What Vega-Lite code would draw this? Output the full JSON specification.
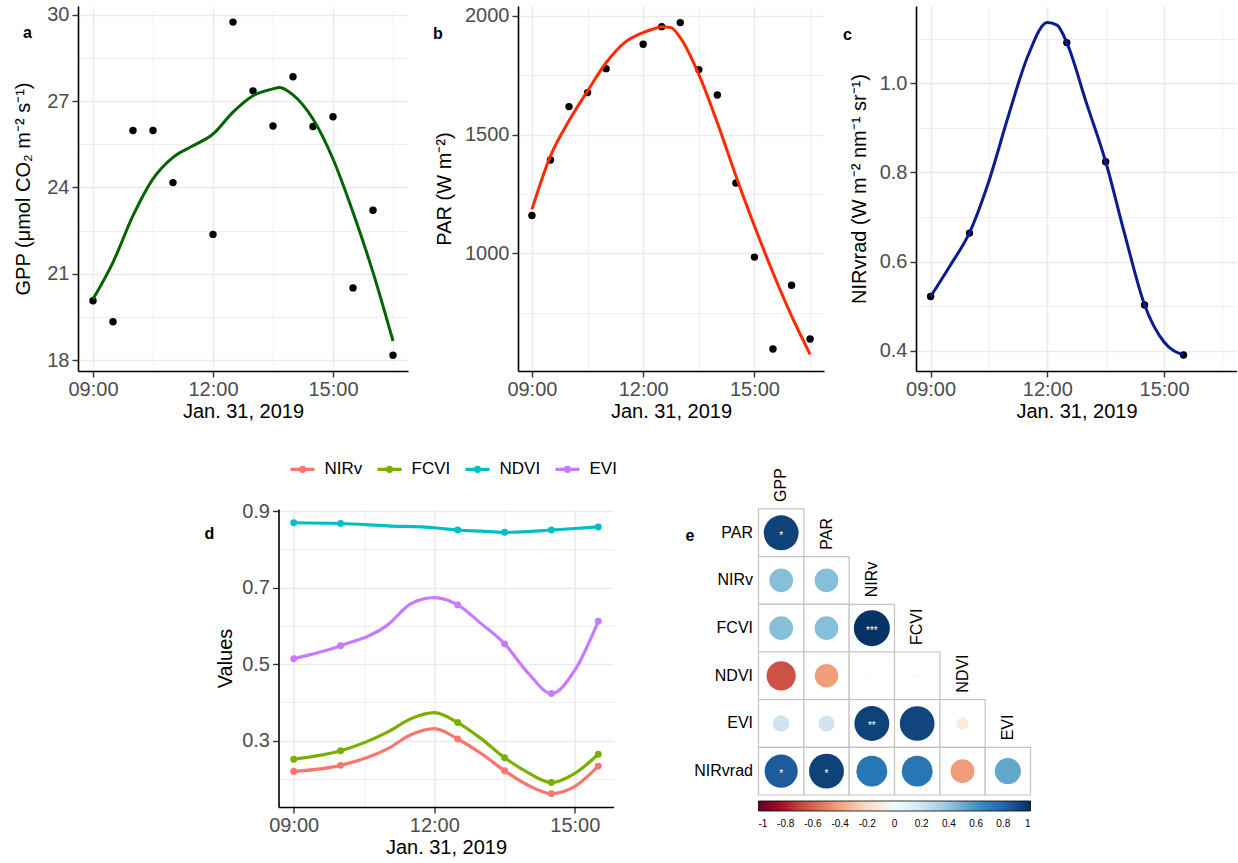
{
  "$schema": "https://vega.github.io/schema/vega-lite/v6.json",
  "background": "white",
  "padding": {"left": 13, "top": 4, "right": 0, "bottom": 0},
  "center": true,
  "spacing": 34,
  "config": {
    "font": "Liberation Sans",
    "view": {"stroke": null},
    "axis": {
      "domainColor": "black", "domainWidth": 1.6,
      "tickColor": "#333333", "tickWidth": 1.4, "tickSize": 6,
      "labelColor": "#4D4D4D", "labelFontSize": 20, "labelPadding": 3,
      "titleFontSize": 20, "titleFontWeight": "normal", "titleColor": "black", "titlePadding": 10,
      "gridColor": "#EBEBEB"
    },
    "title": {"fontSize": 16, "fontWeight": "bold", "anchor": "start", "frame": "group", "offset": 0, "baseline": "middle", "color": "black"}
  },
  "datasets": {
    "gpp_obs": [
      {"time": "2019-01-31T09:00", "GPP": 20.06}, {"time": "2019-01-31T09:30", "GPP": 19.33},
      {"time": "2019-01-31T10:00", "GPP": 25.98}, {"time": "2019-01-31T10:30", "GPP": 25.98},
      {"time": "2019-01-31T11:00", "GPP": 24.17}, {"time": "2019-01-31T12:00", "GPP": 22.37},
      {"time": "2019-01-31T12:30", "GPP": 29.75}, {"time": "2019-01-31T13:00", "GPP": 27.36},
      {"time": "2019-01-31T13:30", "GPP": 26.14}, {"time": "2019-01-31T14:00", "GPP": 27.85},
      {"time": "2019-01-31T14:30", "GPP": 26.12}, {"time": "2019-01-31T15:00", "GPP": 26.46},
      {"time": "2019-01-31T15:30", "GPP": 20.51}, {"time": "2019-01-31T16:00", "GPP": 23.21},
      {"time": "2019-01-31T16:30", "GPP": 18.17}
    ],
    "gpp_fit": [
      {"time": "2019-01-31T09:00", "GPP": 20.12}, {"time": "2019-01-31T09:30", "GPP": 21.40},
      {"time": "2019-01-31T10:00", "GPP": 23.02}, {"time": "2019-01-31T10:30", "GPP": 24.30},
      {"time": "2019-01-31T11:00", "GPP": 25.05}, {"time": "2019-01-31T11:30", "GPP": 25.45},
      {"time": "2019-01-31T12:00", "GPP": 25.86}, {"time": "2019-01-31T12:30", "GPP": 26.62},
      {"time": "2019-01-31T13:00", "GPP": 27.19}, {"time": "2019-01-31T13:30", "GPP": 27.43},
      {"time": "2019-01-31T13:40", "GPP": 27.48}, {"time": "2019-01-31T14:00", "GPP": 27.22},
      {"time": "2019-01-31T14:30", "GPP": 26.38}, {"time": "2019-01-31T15:00", "GPP": 24.99},
      {"time": "2019-01-31T15:30", "GPP": 23.14}, {"time": "2019-01-31T16:00", "GPP": 21.05},
      {"time": "2019-01-31T16:30", "GPP": 18.67}
    ],
    "par_obs": [
      {"time": "2019-01-31T09:00", "PAR": 1159}, {"time": "2019-01-31T09:30", "PAR": 1393},
      {"time": "2019-01-31T10:00", "PAR": 1618}, {"time": "2019-01-31T10:30", "PAR": 1677},
      {"time": "2019-01-31T11:00", "PAR": 1778}, {"time": "2019-01-31T12:00", "PAR": 1881},
      {"time": "2019-01-31T12:30", "PAR": 1955}, {"time": "2019-01-31T13:00", "PAR": 1972},
      {"time": "2019-01-31T13:30", "PAR": 1774}, {"time": "2019-01-31T14:00", "PAR": 1667},
      {"time": "2019-01-31T14:30", "PAR": 1296}, {"time": "2019-01-31T15:00", "PAR": 984},
      {"time": "2019-01-31T15:30", "PAR": 597}, {"time": "2019-01-31T16:00", "PAR": 865},
      {"time": "2019-01-31T16:30", "PAR": 639}
    ],
    "par_fit": [
      {"time": "2019-01-31T09:00", "PAR": 1185}, {"time": "2019-01-31T09:30", "PAR": 1410},
      {"time": "2019-01-31T10:00", "PAR": 1558}, {"time": "2019-01-31T10:30", "PAR": 1684},
      {"time": "2019-01-31T11:00", "PAR": 1803}, {"time": "2019-01-31T11:30", "PAR": 1888},
      {"time": "2019-01-31T12:00", "PAR": 1930}, {"time": "2019-01-31T12:15", "PAR": 1944},
      {"time": "2019-01-31T12:30", "PAR": 1955}, {"time": "2019-01-31T12:45", "PAR": 1951},
      {"time": "2019-01-31T13:00", "PAR": 1909}, {"time": "2019-01-31T13:30", "PAR": 1754},
      {"time": "2019-01-31T14:00", "PAR": 1550}, {"time": "2019-01-31T14:30", "PAR": 1326},
      {"time": "2019-01-31T15:00", "PAR": 1115}, {"time": "2019-01-31T15:30", "PAR": 918},
      {"time": "2019-01-31T16:00", "PAR": 736}, {"time": "2019-01-31T16:30", "PAR": 574}
    ],
    "nirvrad_obs": [
      {"time": "2019-01-31T09:00", "NIRvrad": 0.522}, {"time": "2019-01-31T10:00", "NIRvrad": 0.664},
      {"time": "2019-01-31T12:30", "NIRvrad": 1.091}, {"time": "2019-01-31T13:30", "NIRvrad": 0.824},
      {"time": "2019-01-31T14:30", "NIRvrad": 0.503}, {"time": "2019-01-31T15:30", "NIRvrad": 0.391}
    ],
    "nirvrad_fit": [
      {"time": "2019-01-31T09:00", "NIRvrad": 0.522}, {"time": "2019-01-31T09:30", "NIRvrad": 0.591},
      {"time": "2019-01-31T10:00", "NIRvrad": 0.665}, {"time": "2019-01-31T10:30", "NIRvrad": 0.781},
      {"time": "2019-01-31T11:00", "NIRvrad": 0.927}, {"time": "2019-01-31T11:30", "NIRvrad": 1.061},
      {"time": "2019-01-31T12:00", "NIRvrad": 1.136}, {"time": "2019-01-31T12:15", "NIRvrad": 1.130},
      {"time": "2019-01-31T12:30", "NIRvrad": 1.091}, {"time": "2019-01-31T13:00", "NIRvrad": 0.957},
      {"time": "2019-01-31T13:30", "NIRvrad": 0.824}, {"time": "2019-01-31T14:00", "NIRvrad": 0.658},
      {"time": "2019-01-31T14:30", "NIRvrad": 0.503}, {"time": "2019-01-31T15:00", "NIRvrad": 0.420},
      {"time": "2019-01-31T15:30", "NIRvrad": 0.391}
    ],
    "vi_obs": [
      {"time": "2019-01-31T09:00", "index": "NIRv", "value": 0.219}, {"time": "2019-01-31T10:00", "index": "NIRv", "value": 0.235},
      {"time": "2019-01-31T12:30", "index": "NIRv", "value": 0.304}, {"time": "2019-01-31T13:30", "index": "NIRv", "value": 0.221},
      {"time": "2019-01-31T14:30", "index": "NIRv", "value": 0.161}, {"time": "2019-01-31T15:30", "index": "NIRv", "value": 0.233},
      {"time": "2019-01-31T09:00", "index": "FCVI", "value": 0.251}, {"time": "2019-01-31T10:00", "index": "FCVI", "value": 0.273},
      {"time": "2019-01-31T12:30", "index": "FCVI", "value": 0.347}, {"time": "2019-01-31T13:30", "index": "FCVI", "value": 0.255},
      {"time": "2019-01-31T14:30", "index": "FCVI", "value": 0.190}, {"time": "2019-01-31T15:30", "index": "FCVI", "value": 0.264},
      {"time": "2019-01-31T09:00", "index": "NDVI", "value": 0.870}, {"time": "2019-01-31T10:00", "index": "NDVI", "value": 0.868},
      {"time": "2019-01-31T12:30", "index": "NDVI", "value": 0.851}, {"time": "2019-01-31T13:30", "index": "NDVI", "value": 0.845},
      {"time": "2019-01-31T14:30", "index": "NDVI", "value": 0.851}, {"time": "2019-01-31T15:30", "index": "NDVI", "value": 0.859},
      {"time": "2019-01-31T09:00", "index": "EVI", "value": 0.514}, {"time": "2019-01-31T10:00", "index": "EVI", "value": 0.548},
      {"time": "2019-01-31T12:30", "index": "EVI", "value": 0.655}, {"time": "2019-01-31T13:30", "index": "EVI", "value": 0.553},
      {"time": "2019-01-31T14:30", "index": "EVI", "value": 0.423}, {"time": "2019-01-31T15:30", "index": "EVI", "value": 0.612}
    ],
    "vi_fit": [
      {"time": "2019-01-31T09:00", "index": "NIRv", "value": 0.219}, {"time": "2019-01-31T10:00", "index": "NIRv", "value": 0.235},
      {"time": "2019-01-31T11:00", "index": "NIRv", "value": 0.278}, {"time": "2019-01-31T11:30", "index": "NIRv", "value": 0.315},
      {"time": "2019-01-31T12:00", "index": "NIRv", "value": 0.331}, {"time": "2019-01-31T12:30", "index": "NIRv", "value": 0.304},
      {"time": "2019-01-31T13:00", "index": "NIRv", "value": 0.266}, {"time": "2019-01-31T13:30", "index": "NIRv", "value": 0.221},
      {"time": "2019-01-31T14:00", "index": "NIRv", "value": 0.183}, {"time": "2019-01-31T14:30", "index": "NIRv", "value": 0.161},
      {"time": "2019-01-31T15:00", "index": "NIRv", "value": 0.180}, {"time": "2019-01-31T15:30", "index": "NIRv", "value": 0.233},
      {"time": "2019-01-31T09:00", "index": "FCVI", "value": 0.251}, {"time": "2019-01-31T10:00", "index": "FCVI", "value": 0.273},
      {"time": "2019-01-31T11:00", "index": "FCVI", "value": 0.322}, {"time": "2019-01-31T11:30", "index": "FCVI", "value": 0.357},
      {"time": "2019-01-31T12:00", "index": "FCVI", "value": 0.373}, {"time": "2019-01-31T12:30", "index": "FCVI", "value": 0.347},
      {"time": "2019-01-31T13:00", "index": "FCVI", "value": 0.305}, {"time": "2019-01-31T13:30", "index": "FCVI", "value": 0.255},
      {"time": "2019-01-31T14:00", "index": "FCVI", "value": 0.216}, {"time": "2019-01-31T14:30", "index": "FCVI", "value": 0.190},
      {"time": "2019-01-31T15:00", "index": "FCVI", "value": 0.214}, {"time": "2019-01-31T15:30", "index": "FCVI", "value": 0.264},
      {"time": "2019-01-31T09:00", "index": "NDVI", "value": 0.870}, {"time": "2019-01-31T10:00", "index": "NDVI", "value": 0.868},
      {"time": "2019-01-31T11:00", "index": "NDVI", "value": 0.862}, {"time": "2019-01-31T12:00", "index": "NDVI", "value": 0.857},
      {"time": "2019-01-31T12:30", "index": "NDVI", "value": 0.851}, {"time": "2019-01-31T13:00", "index": "NDVI", "value": 0.848},
      {"time": "2019-01-31T13:30", "index": "NDVI", "value": 0.845}, {"time": "2019-01-31T14:00", "index": "NDVI", "value": 0.847},
      {"time": "2019-01-31T14:30", "index": "NDVI", "value": 0.851}, {"time": "2019-01-31T15:00", "index": "NDVI", "value": 0.855},
      {"time": "2019-01-31T15:30", "index": "NDVI", "value": 0.859},
      {"time": "2019-01-31T09:00", "index": "EVI", "value": 0.514}, {"time": "2019-01-31T10:00", "index": "EVI", "value": 0.548},
      {"time": "2019-01-31T11:00", "index": "EVI", "value": 0.602}, {"time": "2019-01-31T11:30", "index": "EVI", "value": 0.658},
      {"time": "2019-01-31T12:00", "index": "EVI", "value": 0.674}, {"time": "2019-01-31T12:30", "index": "EVI", "value": 0.655},
      {"time": "2019-01-31T13:00", "index": "EVI", "value": 0.606}, {"time": "2019-01-31T13:30", "index": "EVI", "value": 0.553},
      {"time": "2019-01-31T14:00", "index": "EVI", "value": 0.477}, {"time": "2019-01-31T14:30", "index": "EVI", "value": 0.423},
      {"time": "2019-01-31T15:00", "index": "EVI", "value": 0.484}, {"time": "2019-01-31T15:30", "index": "EVI", "value": 0.612}
    ],
    "cor": [
      {"row": "PAR", "col": "GPP", "r": 0.93, "sig": "*"},
      {"row": "NIRv", "col": "GPP", "r": 0.43, "sig": ""},
      {"row": "NIRv", "col": "PAR", "r": 0.43, "sig": ""},
      {"row": "FCVI", "col": "GPP", "r": 0.43, "sig": ""},
      {"row": "FCVI", "col": "PAR", "r": 0.43, "sig": ""},
      {"row": "FCVI", "col": "NIRv", "r": 0.99, "sig": "***"},
      {"row": "NDVI", "col": "GPP", "r": -0.65, "sig": ""},
      {"row": "NDVI", "col": "PAR", "r": -0.42, "sig": ""},
      {"row": "NDVI", "col": "NIRv", "r": 0.01, "sig": ""},
      {"row": "NDVI", "col": "FCVI", "r": -0.01, "sig": ""},
      {"row": "EVI", "col": "GPP", "r": 0.21, "sig": ""},
      {"row": "EVI", "col": "PAR", "r": 0.2, "sig": ""},
      {"row": "EVI", "col": "NIRv", "r": 0.93, "sig": "**"},
      {"row": "EVI", "col": "FCVI", "r": 0.92, "sig": ""},
      {"row": "EVI", "col": "NDVI", "r": -0.11, "sig": ""},
      {"row": "NIRvrad", "col": "GPP", "r": 0.84, "sig": "*"},
      {"row": "NIRvrad", "col": "PAR", "r": 0.93, "sig": "*"},
      {"row": "NIRvrad", "col": "NIRv", "r": 0.73, "sig": ""},
      {"row": "NIRvrad", "col": "FCVI", "r": 0.73, "sig": ""},
      {"row": "NIRvrad", "col": "NDVI", "r": -0.43, "sig": ""},
      {"row": "NIRvrad", "col": "EVI", "r": 0.52, "sig": ""}
    ],
    "cor_cols": [
      {"col": "GPP", "row": "top"}, {"col": "PAR", "row": "PAR"}, {"col": "NIRv", "row": "NIRv"},
      {"col": "FCVI", "row": "FCVI"}, {"col": "NDVI", "row": "NDVI"}, {"col": "EVI", "row": "EVI"}
    ]
  },
  "vconcat": [
    {
      "hconcat": [
        {
          "hconcat": [
            {
              "width": 330, "height": 365,
              "title": {"text": "a", "dx": -55, "dy": 40},
              "encoding": {
                "x": {"field": "time", "type": "temporal",
                  "scale": {"domain": [{"year": 2019, "month": 1, "date": 31, "hours": 8, "minutes": 37, "seconds": 30}, {"year": 2019, "month": 1, "date": 31, "hours": 16, "minutes": 52, "seconds": 30}]},
                  "axis": {"title": "Jan. 31, 2019", "labelPadding": 2, "titlePadding": 2,
                    "values": [{"year": 2019, "month": 1, "date": 31, "hours": 9}, {"year": 2019, "month": 1, "date": 31, "hours": 10, "minutes": 30}, {"year": 2019, "month": 1, "date": 31, "hours": 12}, {"year": 2019, "month": 1, "date": 31, "hours": 13, "minutes": 30}, {"year": 2019, "month": 1, "date": 31, "hours": 15}, {"year": 2019, "month": 1, "date": 31, "hours": 16, "minutes": 30}],
                    "labelExpr": "minutes(datum.value) == 0 ? timeFormat(datum.value, '%H:%M') : ''",
                    "tickOpacity": {"condition": {"test": "minutes(datum.value) == 0", "value": 1}, "value": 0},
                    "gridWidth": {"condition": {"test": "minutes(datum.value) == 0", "value": 1.6}, "value": 0.8}}},
                "y": {"field": "GPP", "type": "quantitative",
                  "scale": {"domain": [17.62, 30.31], "nice": false, "zero": false},
                  "axis": {"title": "GPP (μmol CO₂ m⁻² s⁻¹)", "titlePadding": 13, "values": [18, 19.5, 21, 22.5, 24, 25.5, 27, 28.5, 30],
                    "labelExpr": "datum.value % 3 == 0 ? format(datum.value, 'd') : ''",
                    "tickOpacity": {"condition": {"test": "datum.value % 3 == 0", "value": 1}, "value": 0},
                    "gridWidth": {"condition": {"test": "datum.value % 3 == 0", "value": 1.6}, "value": 0.8}}}
              },
              "layer": [
                {"data": {"name": "gpp_obs", "format": {"parse": {"time": "date:'%Y-%m-%dT%H:%M'"}}}, "mark": {"type": "circle", "color": "black", "size": 55, "opacity": 1}},
                {"data": {"name": "gpp_fit", "format": {"parse": {"time": "date:'%Y-%m-%dT%H:%M'"}}}, "mark": {"type": "line", "color": "#006400", "strokeWidth": 3, "interpolate": "monotone"}}
              ]
            },
            {
              "width": 306, "height": 365,
              "title": {"text": "b", "dx": -85, "dy": 40},
              "encoding": {
                "x": {"field": "time", "type": "temporal",
                  "scale": {"domain": [{"year": 2019, "month": 1, "date": 31, "hours": 8, "minutes": 37, "seconds": 30}, {"year": 2019, "month": 1, "date": 31, "hours": 16, "minutes": 52, "seconds": 30}]},
                  "axis": {"title": "Jan. 31, 2019", "labelPadding": 2, "titlePadding": 2,
                    "values": [{"year": 2019, "month": 1, "date": 31, "hours": 9}, {"year": 2019, "month": 1, "date": 31, "hours": 10, "minutes": 30}, {"year": 2019, "month": 1, "date": 31, "hours": 12}, {"year": 2019, "month": 1, "date": 31, "hours": 13, "minutes": 30}, {"year": 2019, "month": 1, "date": 31, "hours": 15}, {"year": 2019, "month": 1, "date": 31, "hours": 16, "minutes": 30}],
                    "labelExpr": "minutes(datum.value) == 0 ? timeFormat(datum.value, '%H:%M') : ''",
                    "tickOpacity": {"condition": {"test": "minutes(datum.value) == 0", "value": 1}, "value": 0},
                    "gridWidth": {"condition": {"test": "minutes(datum.value) == 0", "value": 1.6}, "value": 0.8}}},
                "y": {"field": "PAR", "type": "quantitative",
                  "scale": {"domain": [504, 2042], "nice": false, "zero": false},
                  "axis": {"title": "PAR (W m⁻²)", "values": [750, 1000, 1250, 1500, 1750, 2000],
                    "labelExpr": "datum.value % 500 == 0 ? format(datum.value, 'd') : ''",
                    "tickOpacity": {"condition": {"test": "datum.value % 500 == 0", "value": 1}, "value": 0},
                    "gridWidth": {"condition": {"test": "datum.value % 500 == 0", "value": 1.6}, "value": 0.8}}}
              },
              "layer": [
                {"data": {"name": "par_obs", "format": {"parse": {"time": "date:'%Y-%m-%dT%H:%M'"}}}, "mark": {"type": "circle", "color": "black", "size": 55, "opacity": 1}},
                {"data": {"name": "par_fit", "format": {"parse": {"time": "date:'%Y-%m-%dT%H:%M'"}}}, "mark": {"type": "line", "color": "#FF2A00", "strokeWidth": 3, "interpolate": "monotone"}}
              ]
            }
          ],
          "spacing": 25
        },
        {
          "width": 321, "height": 365,
          "title": {"text": "c", "dx": -73, "dy": 41},
          "encoding": {
            "x": {"field": "time", "type": "temporal",
              "scale": {"domain": [{"year": 2019, "month": 1, "date": 31, "hours": 8, "minutes": 37, "seconds": 30}, {"year": 2019, "month": 1, "date": 31, "hours": 16, "minutes": 52, "seconds": 30}]},
              "axis": {"title": "Jan. 31, 2019", "labelPadding": 2, "titlePadding": 2,
                "values": [{"year": 2019, "month": 1, "date": 31, "hours": 9}, {"year": 2019, "month": 1, "date": 31, "hours": 10, "minutes": 30}, {"year": 2019, "month": 1, "date": 31, "hours": 12}, {"year": 2019, "month": 1, "date": 31, "hours": 13, "minutes": 30}, {"year": 2019, "month": 1, "date": 31, "hours": 15}, {"year": 2019, "month": 1, "date": 31, "hours": 16, "minutes": 30}],
                "labelExpr": "minutes(datum.value) == 0 ? timeFormat(datum.value, '%H:%M') : ''",
                "tickOpacity": {"condition": {"test": "minutes(datum.value) == 0", "value": 1}, "value": 0},
                "gridWidth": {"condition": {"test": "minutes(datum.value) == 0", "value": 1.6}, "value": 0.8}}},
            "y": {"field": "NIRvrad", "type": "quantitative",
              "scale": {"domain": [0.355, 1.173], "nice": false, "zero": false},
              "axis": {"title": "NIRvrad (W m⁻² nm⁻¹ sr⁻¹)", "values": [0.4, 0.5, 0.6, 0.7, 0.8, 0.9, 1.0, 1.1],
                "labelExpr": "round(datum.value * 10) % 2 == 0 ? format(datum.value, '.1f') : ''",
                "tickOpacity": {"condition": {"test": "round(datum.value * 10) % 2 == 0", "value": 1}, "value": 0},
                "gridWidth": {"condition": {"test": "round(datum.value * 10) % 2 == 0", "value": 1.6}, "value": 0.8}}}
          },
          "layer": [
            {"data": {"name": "nirvrad_obs", "format": {"parse": {"time": "date:'%Y-%m-%dT%H:%M'"}}}, "mark": {"type": "circle", "color": "black", "size": 55, "opacity": 1}},
            {"data": {"name": "nirvrad_fit", "format": {"parse": {"time": "date:'%Y-%m-%dT%H:%M'"}}}, "mark": {"type": "line", "color": "#0A1C8F", "strokeWidth": 3, "interpolate": "monotone"}}
          ]
        }
      ],
      "spacing": 19
    },
    {
      "hconcat": [
        {
          "width": 335, "height": 298,
          "title": {"text": "d", "dx": -74, "dy": 91},
          "encoding": {
            "x": {"field": "time", "type": "temporal",
              "scale": {"domain": [{"year": 2019, "month": 1, "date": 31, "hours": 8, "minutes": 40, "seconds": 30}, {"year": 2019, "month": 1, "date": 31, "hours": 15, "minutes": 49, "seconds": 30}]},
              "axis": {"title": "Jan. 31, 2019", "labelPadding": 2, "titlePadding": 2,
                "values": [{"year": 2019, "month": 1, "date": 31, "hours": 9}, {"year": 2019, "month": 1, "date": 31, "hours": 10, "minutes": 30}, {"year": 2019, "month": 1, "date": 31, "hours": 12}, {"year": 2019, "month": 1, "date": 31, "hours": 13, "minutes": 30}, {"year": 2019, "month": 1, "date": 31, "hours": 15}],
                "labelExpr": "minutes(datum.value) == 0 ? timeFormat(datum.value, '%H:%M') : ''",
                "tickOpacity": {"condition": {"test": "minutes(datum.value) == 0", "value": 1}, "value": 0},
                "gridWidth": {"condition": {"test": "minutes(datum.value) == 0", "value": 1.6}, "value": 0.8}}},
            "y": {"field": "value", "type": "quantitative",
              "scale": {"domain": [0.126, 0.906], "nice": false, "zero": false},
              "axis": {"title": "Values", "titlePadding": 6, "values": [0.2, 0.3, 0.4, 0.5, 0.6, 0.7, 0.8, 0.9],
                "labelExpr": "round(datum.value * 10) % 2 == 1 ? format(datum.value, '.1f') : ''",
                "tickOpacity": {"condition": {"test": "round(datum.value * 10) % 2 == 1", "value": 1}, "value": 0},
                "gridWidth": {"condition": {"test": "round(datum.value * 10) % 2 == 1", "value": 1.6}, "value": 0.8}}},
            "color": {"field": "index", "type": "nominal",
              "scale": {"domain": ["NIRv", "FCVI", "NDVI", "EVI"], "range": ["#F8766D", "#7CAE00", "#00BFC4", "#C77CFF"]}}
          },
          "layer": [
            {"data": {"name": "vi_fit", "format": {"parse": {"time": "date:'%Y-%m-%dT%H:%M'"}}},
              "mark": {"type": "line", "strokeWidth": 3.2, "interpolate": "monotone"},
              "encoding": {"color": {"field": "index", "type": "nominal",
                "legend": {"orient": "none", "legendX": 10, "legendY": -54, "direction": "horizontal", "title": null,
                  "symbolType": "M-1,0L1,0M-0.17,0A0.17,0.17,0,1,1,0.17,0A0.17,0.17,0,1,1,-0.17,0",
                  "symbolSize": 576, "symbolStrokeWidth": 3.2, "labelFontSize": 17, "labelColor": "black", "labelOffset": 8, "columnPadding": 8}}}},
            {"data": {"name": "vi_obs", "format": {"parse": {"time": "date:'%Y-%m-%dT%H:%M'"}}},
              "mark": {"type": "circle", "size": 48, "opacity": 1},
              "encoding": {"color": {"field": "index", "type": "nominal", "legend": null}}}
          ]
        },
        {
          "width": 278, "height": 286,
          "title": {"text": "e", "dx": -73, "dy": 80},
          "encoding": {
            "x": {"field": "col", "type": "nominal", "axis": null,
              "scale": {"domain": ["GPP", "PAR", "NIRv", "FCVI", "NDVI", "EVI"], "paddingInner": 0, "paddingOuter": 0.066, "align": 0}},
            "y": {"field": "row", "type": "nominal",
              "scale": {"domain": ["top", "PAR", "NIRv", "FCVI", "NDVI", "EVI", "NIRvrad"], "range": [-47.7, 286], "paddingInner": 0, "paddingOuter": 0},
              "axis": {"title": null, "domain": false, "ticks": false, "grid": false, "labelFontSize": 16, "labelColor": "black", "labelPadding": 6,
                "labelExpr": "datum.value == 'top' ? '' : datum.value"}}
          },
          "layer": [
            {"data": {"name": "cor"}, "mark": {"type": "rect", "fill": "white", "stroke": "#C4C4C4", "strokeWidth": 1.2}},
            {"data": {"name": "cor"}, "mark": {"type": "circle", "opacity": 1},
              "encoding": {
                "size": {"field": "r", "type": "quantitative", "legend": null,
                  "scale": {"type": "linear", "domain": [-1, 0, 1], "range": [1308, 0, 1308]}},
                "color": {"field": "r", "type": "quantitative",
                  "scale": {"type": "linear", "domain": [-1, -0.8, -0.6, -0.4, -0.2, 0, 0.2, 0.4, 0.6, 0.8, 1],
                    "range": ["#67001F", "#B2182B", "#D6604D", "#F4A582", "#FDDBC7", "#FFFFFF", "#D1E5F0", "#92C5DE", "#4393C3", "#2166AC", "#053061"]},
                  "legend": {"orient": "none", "legendX": 0, "legendY": 292, "direction": "horizontal", "title": null,
                    "gradientLength": 272, "gradientThickness": 10, "gradientStrokeColor": "black", "gradientStrokeWidth": 0.8,
                    "values": [-1, -0.8, -0.6, -0.4, -0.2, 0, 0.2, 0.4, 0.6, 0.8, 1],
                    "labelExpr": "datum.value == 0 ? '0' : (datum.value < 0 ? '-' : '') + format(abs(datum.value), '~g')",
                    "labelFontSize": 10, "labelColor": "black", "labelOverlap": false, "labelAlign": "center", "labelOffset": 8}}
              }},
            {"data": {"name": "cor"}, "mark": {"type": "text", "color": "white", "fontSize": 10, "baseline": "middle", "dy": 3},
              "encoding": {"text": {"field": "sig", "type": "nominal"}}},
            {"data": {"name": "cor_cols"}, "mark": {"type": "text", "angle": 270, "align": "left", "baseline": "middle", "dx": 7, "fontSize": 16, "color": "black"},
              "encoding": {"y": {"field": "row", "type": "nominal", "bandPosition": 1}, "text": {"field": "col", "type": "nominal"}}}
          ]
        }
      ],
      "spacing": 68
    }
  ]
}
